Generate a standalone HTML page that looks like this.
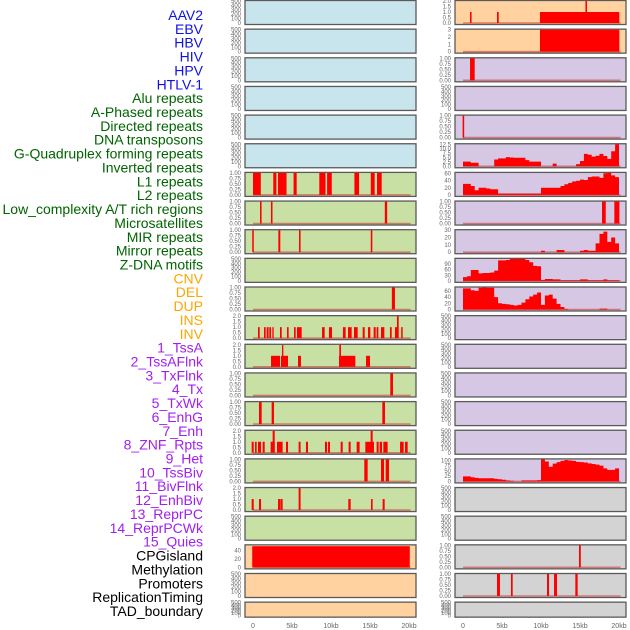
<!DOCTYPE html>
<html><head><meta charset="utf-8"><style>
html,body{margin:0;padding:0;background:#fff;}
svg{display:block;font-family:"Liberation Sans",sans-serif;}
</style></head><body>
<svg id="chart" width="630" height="630" viewBox="0 0 630 630" xmlns="http://www.w3.org/2000/svg">
<g id="labels"></g>
<g id="panels"></g>
<g id="xaxes"></g>
</svg>
<script>
const trackNames = ["AAV2","EBV","HBV","HIV","HPV","HTLV-1","Alu repeats","A-Phased repeats","Directed repeats","DNA transposons","G-Quadruplex forming repeats","Inverted repeats","L1 repeats","L2 repeats","Low_complexity A/T rich regions","Microsatellites","MIR repeats","Mirror repeats","Z-DNA motifs","CNV","DEL","DUP","INS","INV","1_TssA","2_TssAFlnk","3_TxFlnk","4_Tx","5_TxWk","6_EnhG","7_Enh","8_ZNF_Rpts","9_Het","10_TssBiv","11_BivFlnk","12_EnhBiv","13_ReprPC","14_ReprPCWk","15_Quies","CPGisland","Methylation","Promoters","ReplicationTiming","TAD_boundary"];
const trackGroupCounts = [6,13,5,15,5];
const groupColors = ["#1010e8","#006400","#ffa500","#a020f0","#000000"];
const xTickValues = [0,5,10,15,20];
const xTickLabels = ["0","5kb","10kb","15kb","20kb"];
const ticksEmpty = ["0","100","200","300","400","500"];
const ticks01 = ["0.00","0.25","0.50","0.75","1.00"];
const ticks02 = ["0.0","0.5","1.0","1.5","2.0"];
const ticks03 = ["0","1","2","3"];
// segments [startKb, endKb, value]
const c1r6 = [[0,1.0,1],[2.6,3.0,1],[3.2,4.3,1],[5.2,5.6,1],[8.5,9.3,1],[9.5,10.1,1],[13.0,13.6,1],[15.1,15.6,1],[15.9,16.5,1]];
const c1r7 = [[0.9,1.1,1],[2.3,2.5,1],[16.9,17.2,1]];
const c1r8 = [[-0.1,0.1,1],[3.25,3.5,1],[5.9,6.1,1],[15.1,15.3,1]];
const c1r10 = [[17.8,18.2,1]];
const c1r11 = [[0.64,0.86,1],[1.41,1.62,1],[1.75,2.0,1],[2.09,2.31,1],[2.48,2.65,1],[3.46,3.68,1],[4.36,4.57,1],[5.26,5.47,1],[5.64,6.24,1],[8.85,9.19,1],[9.74,10.13,1],[11.53,11.88,1],[12.18,12.65,1],[12.95,13.42,1],[14.06,14.32,1],[14.74,15.04,1],[15.47,15.73,1],[15.85,16.07,1],[16.41,16.84,1],[17.56,17.78,1],[18.2,18.46,1],[18.46,18.68,2],[19.0,19.19,1]];
const c1r12 = [[2.31,3.46,1],[3.59,4.49,1],[3.72,3.89,2],[5.77,6.15,1],[11.03,13.12,1],[11.07,11.28,2],[14.49,15.0,1]];
const c1r13 = [[17.6,17.95,1]];
const c1r14 = [[0.77,1.11,1],[2.39,2.69,1],[16.58,16.92,1]];
const c1r15 = [[-0.17,0.09,1],[0.26,0.47,1],[0.64,1.03,1],[1.24,1.5,1],[2.26,2.78,1],[2.52,2.78,2],[3.08,3.8,1],[4.23,4.49,1],[5.85,6.1,1],[6.79,7.05,1],[9.23,9.49,1],[9.62,9.87,1],[11.24,11.5,1],[12.26,12.52,1],[13.29,13.67,1],[14.4,15.51,1],[15.08,15.34,2],[15.85,16.11,1],[16.24,16.54,1],[16.71,17.26,1],[18.85,19.32,1],[19.49,19.83,1]];
const c1r16 = [[14.27,14.7,1],[16.41,16.8,1],[17.01,17.44,1]];
const c1r17 = [[-0.17,0.09,1],[0.77,1.03,1],[3.21,3.46,1],[3.5,3.8,1],[5.85,6.1,2],[12.22,12.52,1],[15.13,15.34,1],[16.62,16.88,1]];
const c1r19 = [[-0.1,20.1,50]];
const cpgTicks = ["0","20","40"];
const cpgMax = 52;
const c2r0 = [[0.9,1.1,1],[4.36,4.58,1],[9.87,20.04,1],[15.7,15.9,2]];
const c2r1 = [[9.87,20.04,3]];
const c2r2 = [[0.9,1.5,1]];
const c2r4 = [[-0.05,0.15,1]];
const c2r7 = [[17.82,18.3,1],[19.4,20.05,1]];
const c2r19 = [[14.87,15.1,1]];
const c2r20 = [[4.36,4.74,1],[6.15,6.37,1],[10.77,11.03,1],[11.67,12.05,1],[14.4,14.7,1]];
// profiles: 40 bins of 0.5kb from 0 to 20kb
const c2r5 = [2.6,2.6,2,2,0,0,0,0,3.8,4.5,4.5,5.2,5,4.8,4.8,4.8,3.5,2.6,2.6,2.6,0,0,0,1.5,0,0,0,0,0,1.2,3,7,6.5,5.5,6,7,5.8,4.2,8.5,12.5];
const c2r5Ticks = ["0.0","2.5","5.0","7.5","10.0","12.5"];
const c2r6 = [31,31,25,13,20,20,18,16,16,4,4,4,4,4,4,4,4,4,4,4,20,20,20,20,20,25,30,34,38,40,43,42,50,52,52,48,61,62,55,50];
const c2r6Ticks = ["0","20","40","60"];
const c2r8 = [0,0,0,0,0,0,0,0,0,0,0,0,0,0,0,0,0,0,0,0,2,0,0,0,3,3,0,0,0,0,2,3,2,2,12,25,28,14,20,12];
const c2r8Ticks = ["0","10","20","30"];
const c2r9 = [20,25,58,58,40,42,42,45,55,110,110,112,118,118,118,118,112,100,80,78,5,10,10,8,8,3,3,3,3,3,8,8,3,3,3,3,8,3,3,3];
const c2r9Ticks = ["0","30","60","90"];
const c2r10 = [68,68,62,60,70,71,70,70,40,20,18,17,15,13,15,22,33,42,48,55,15,45,48,35,18,8,2,0,0,0,0,0,0,0,0,3,3,0,0,0];
const c2r10Ticks = ["0","20","40","60"];
const c2r16 = [24,24,20,17,15,15,15,15,12,10,8,5,3,0,0,5,5,5,5,6,105,95,70,85,92,98,102,100,98,93,92,90,86,83,80,75,62,55,55,62];
const c2r16Ticks = ["0","25","50","75","100"];

const NS = "http://www.w3.org/2000/svg";
function mk(tag, attrs, parent){const e=document.createElementNS(NS,tag);for(const k in attrs)e.setAttribute(k,attrs[k]);parent.appendChild(e);return e;}
const colX0 = [245,455];
const zeroX = [253,463];
const PXKB = 7.8;
const PANEL_W = 171;
const ROW_PITCH = 28.65;
function xs(col, kb){return zeroX[col] + kb*PXKB;}
function rowTop(r){return r*ROW_PITCH;}
function rowH(r){return r===21?16:25;}
function ys(r, v, max){const T=rowTop(r),H=rowH(r);return T+H-2 - v/max*(H-3);}

// labels
const lg = document.getElementById('labels');
let gi=0, cnt=0;
trackNames.forEach((n,i)=>{
  while(cnt>=trackGroupCounts[gi]){gi++;cnt=0;}
  cnt++;
  const t = mk('text',{x:203,y:15+i*13.86+5,'text-anchor':'end','font-size':'14',fill:groupColors[gi]},lg);
  t.textContent = n;
  
  
});

const bg1 = r => r<6?"#c8e4ec":(r<19?"#c8e0a4":"#ffd2a0");
const bg2 = r => r<2?"#ffd2a0":(r<17?"#d6c8e4":"#d3d3d3");
const specs = [];
for(let r=0;r<22;r++){specs.push({col:0,row:r,kind:'empty',ticks:ticksEmpty});specs.push({col:1,row:r,kind:'empty',ticks:ticksEmpty});}
function set(col,row,kind,data,ticks,max){const s=specs.find(p=>p.col===col&&p.row===row);s.kind=kind;s.data=data;s.ticks=ticks;s.max=max;}
set(0,6,'seg',c1r6,ticks01,1);set(0,7,'seg',c1r7,ticks01,1);set(0,8,'seg',c1r8,ticks01,1);
set(0,10,'seg',c1r10,ticks01,1);set(0,11,'seg',c1r11,ticks02,2);set(0,12,'seg',c1r12,ticks02,2);
set(0,13,'seg',c1r13,ticks01,1);set(0,14,'seg',c1r14,ticks01,1);set(0,15,'seg',c1r15,ticks02,2);
set(0,16,'seg',c1r16,ticks01,1);set(0,17,'seg',c1r17,ticks02,2);set(0,19,'seg',c1r19,cpgTicks,cpgMax);
set(1,0,'seg',c2r0,ticks02,2);set(1,1,'seg',c2r1,ticks03,3);set(1,2,'seg',c2r2,ticks01,1);
set(1,4,'seg',c2r4,ticks01,1);set(1,5,'prof',c2r5,c2r5Ticks);set(1,6,'prof',c2r6,c2r6Ticks);
set(1,7,'seg',c2r7,ticks01,1);set(1,8,'prof',c2r8,c2r8Ticks);set(1,9,'prof',c2r9,c2r9Ticks);
set(1,10,'prof',c2r10,c2r10Ticks);set(1,16,'prof',c2r16,c2r16Ticks);
set(1,19,'seg',c2r19,ticks01,1);set(1,20,'seg',c2r20,ticks01,1);

const pg = document.getElementById('panels');
specs.forEach(s=>{
  const T=rowTop(s.row),H=rowH(s.row),X=colX0[s.col];
  const g = mk('g',{},pg);
  
  
  mk('rect',{x:X,y:T+0.5,width:PANEL_W,height:H-1,fill:s.col===0?bg1(s.row):bg2(s.row),stroke:'#5a5a5a','stroke-width':1.3},g);
  let max = s.kind==='empty'?500:(s.kind==='prof'?Math.max(...s.data):s.max);
  if(s.kind==='prof'){const tv=s.ticks.map(Number);max=Math.max(max,tv[tv.length-1]);}
  // tick labels
  const tx = s.col===0?241:451;
  s.ticks.forEach(tl=>{
    const t = mk('text',{x:tx,y:ys(s.row,Number(tl),max)+2,'text-anchor':'end','font-size':'6',fill:'#666'},g);
    t.textContent = tl;
    
    
  });
  if(s.kind==='empty') return;
  const y0 = ys(s.row,0,max);
  mk('line',{x1:xs(s.col,0),x2:xs(s.col,20.2),y1:y0,y2:y0,stroke:'rgba(200,50,50,0.55)','stroke-width':1.6},g);
  if(s.kind==='seg'){
    s.data.forEach(d=>{
      const x1=xs(s.col,d[0]),x2=xs(s.col,d[1]),y=ys(s.row,d[2],max);
      const b = mk('rect',{x:x1,y:y,width:Math.max(x2-x1,1.2),height:y0-y,fill:'#ff0000'},g);
      
      
    });
  } else {
    let dstr = 'M'+xs(s.col,0)+','+y0;
    s.data.forEach((v,i)=>{
      const y=ys(s.row,v,max);
      dstr += ' L'+xs(s.col,i*0.5)+','+y+' L'+xs(s.col,(i+1)*0.5)+','+y;
    });
    dstr += ' L'+xs(s.col,20)+','+y0+' Z';
    const p = mk('path',{d:dstr,fill:'#ff0000'},g);
    
    
  }
});

const xg = document.getElementById('xaxes');
[0,1].forEach(c=>{
  xTickValues.forEach((v,i)=>{
    const t = mk('text',{x:xs(c,v),y:628,'text-anchor':'middle','font-size':'7',fill:'#666'},xg);
    t.textContent = xTickLabels[i];
    
    
  });
});
</script>
</body></html>
